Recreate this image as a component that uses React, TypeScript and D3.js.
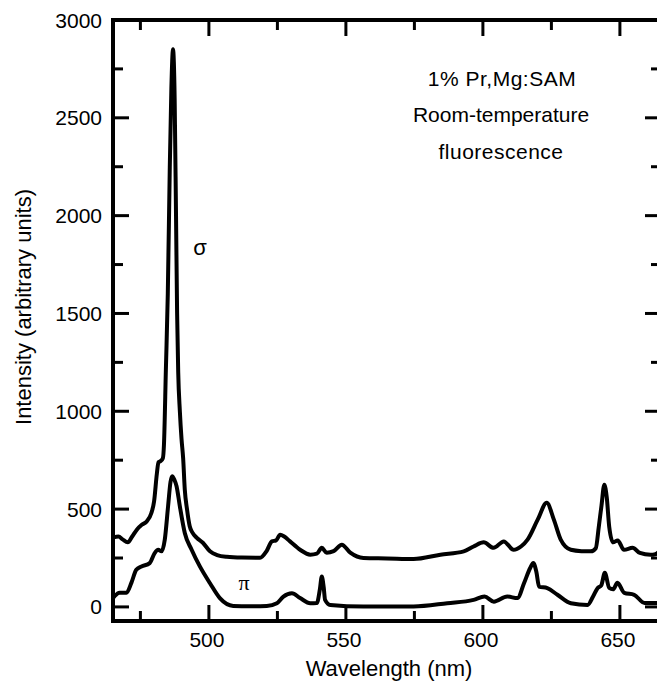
import React from 'react';
import * as d3 from 'd3';

// σ-polarized spectrum (upper curve)
const sigmaWavelength = [465, 467, 468.5, 470.4, 472, 473.7, 475.5, 477.3, 479, 480, 481, 481.6, 482.3, 483.2, 483.6, 484.3, 485.0, 485.7, 486.3, 486.9, 487.5, 488.0, 488.4, 488.8, 489.4, 490.0, 490.6, 491.2, 492, 493, 494, 495.5, 497.8, 500.4, 503, 506.5, 512, 518.7, 521, 523, 524.5, 526, 527.5, 529.6, 533.3, 537, 539.4, 541.2, 543, 545.5, 548.5, 551.6, 556.4, 565, 574.7, 584.5, 593, 596.6, 600.3, 603.9, 607.6, 611.2, 614, 616.3, 620, 623.3, 625.9, 628.4, 632.1, 636, 639.4, 641.2, 642.3, 643.3, 644.3, 645.2, 646.1, 647.5, 649.2, 651.5, 654.6, 657.3, 661.2, 663, 665];
const sigmaIntensity = [355, 360, 345, 330, 360, 395, 420, 437, 480, 540, 680, 740, 745, 760, 830, 1215, 1600, 2226, 2650, 2850, 2600, 2000, 1500, 1200, 1000, 860, 760, 600, 500, 412, 380, 354, 328, 284, 265, 256, 252, 251, 284, 335, 340, 369, 360, 335, 292, 267, 272, 302, 277, 285, 318, 277, 250, 248, 245, 267, 284, 309, 330, 302, 335, 292, 310, 344, 446, 532, 446, 344, 292, 285, 284, 300, 410, 520, 625, 560, 410, 330, 340, 292, 302, 276, 266, 270, 292];

// π-polarized spectrum (lower curve)
const piWavelength = [465, 467.4, 469.9, 471.7, 473.5, 475.4, 478.4, 480.2, 481.5, 482.7, 483.9, 485.1, 486.0, 486.6, 487.4, 488.2, 489.4, 491.2, 493.7, 496.7, 500.4, 504, 508.9, 515, 521.1, 524.8, 527.2, 530.3, 533.3, 537, 539.4, 540.5, 541.2, 541.9, 542.4, 544.3, 556.4, 574.7, 587, 596.6, 600.6, 604, 608.9, 612.6, 615, 617.3, 618.4, 619.5, 620.5, 623.5, 627.2, 632.1, 638.2, 640.2, 641.9, 643.2, 644.5, 646.1, 647.5, 649.1, 651.6, 655.2, 659, 665];
const piIntensity = [45, 72, 72, 123, 190, 207, 224, 275, 292, 284, 344, 514, 640, 668, 650, 617, 514, 378, 292, 207, 121, 45, 5, 3, 5, 19, 53, 70, 45, 19, 20, 90, 155, 100, 36, 10, 2, 2, 19, 36, 53, 27, 53, 45, 121, 200, 224, 180, 104, 96, 62, 19, 10, 53, 97, 110, 174, 97, 90, 123, 72, 62, 20, 20];

const xMajorTicks = [500, 550, 600, 650];
const xMinorTicks = [475, 525, 575, 625];
const yMajorTicks = [0, 500, 1000, 1500, 2000, 2500, 3000];
const yMinorTicks = [250, 750, 1250, 1750, 2250, 2750];

const xDomain = [465, 665];
const yDomain = [-72, 3000];

export default function App() {
  const left = 113, right = 661, top = 20, bottom = 621;
  const x = d3.scaleLinear().domain(xDomain).range([left, right]);
  const y = d3.scaleLinear().domain(yDomain).range([bottom, top]);

  const line = d3.line<[number, number]>()
    .x(d => x(d[0]))
    .y(d => y(d[1]))
    .curve(d3.curveMonotoneX);

  const sigmaPts: [number, number][] = sigmaWavelength.map((w, i) => [w, sigmaIntensity[i]]);
  const piPts: [number, number][] = piWavelength.map((w, i) => [w, piIntensity[i]]);

  const font = 'Liberation Sans, Arial, Helvetica, sans-serif';
  const major = 16, minor = 10;

  return (
    <svg width={657} height={682} style={{ position: 'absolute', left: 0, top: 0, background: '#fff' }}>
      <rect x={0} y={0} width={657} height={682} fill="#fff" />
      <defs>
        <clipPath id="plot">
          <rect x={left} y={top} width={right - left} height={bottom - top} />
        </clipPath>
      </defs>
      <g clipPath="url(#plot)">
        <path d={line(sigmaPts) || ''} fill="none" stroke="#000" strokeWidth={4} strokeLinejoin="round" strokeLinecap="round" />
        <path d={line(piPts) || ''} fill="none" stroke="#000" strokeWidth={4} strokeLinejoin="round" strokeLinecap="round" />
      </g>
      {/* frame */}
      <rect x={left} y={top} width={right - left} height={bottom - top} fill="none" stroke="#000" strokeWidth={4} />
      {/* x ticks top & bottom */}
      {xMajorTicks.map(t => (
        <g key={'xm' + t}>
          <line x1={x(t)} x2={x(t)} y1={bottom} y2={bottom - major} stroke="#000" strokeWidth={3} />
          <line x1={x(t)} x2={x(t)} y1={top} y2={top + major} stroke="#000" strokeWidth={3} />
        </g>
      ))}
      {xMinorTicks.map(t => (
        <g key={'xn' + t}>
          <line x1={x(t)} x2={x(t)} y1={bottom} y2={bottom - minor} stroke="#000" strokeWidth={3} />
          <line x1={x(t)} x2={x(t)} y1={top} y2={top + minor} stroke="#000" strokeWidth={3} />
        </g>
      ))}
      {yMajorTicks.map(t => (
        <g key={'ym' + t}>
          <line x1={left} x2={left + major} y1={y(t)} y2={y(t)} stroke="#000" strokeWidth={3} />
          <line x1={right} x2={right - major} y1={y(t)} y2={y(t)} stroke="#000" strokeWidth={3} />
        </g>
      ))}
      {yMinorTicks.map(t => (
        <g key={'yn' + t}>
          <line x1={left} x2={left + minor} y1={y(t)} y2={y(t)} stroke="#000" strokeWidth={3} />
          <line x1={right} x2={right - minor} y1={y(t)} y2={y(t)} stroke="#000" strokeWidth={3} />
        </g>
      ))}
      {/* tick labels */}
      {xMajorTicks.map(t => (
        <text key={'xl' + t} x={x(t) - 2} y={647} textAnchor="middle" fontFamily={font} fontSize={21} fill="#000">{t}</text>
      ))}
      {yMajorTicks.map(t => (
        <text key={'yl' + t} x={102} y={y(t)} dy="0.36em" textAnchor="end" fontFamily={font} fontSize={21} fill="#000">{t}</text>
      ))}
      {/* axis titles */}
      <text transform="translate(31,307) rotate(-90)" textAnchor="middle" fontFamily={font} fontSize={22} fill="#000">Intensity (arbitrary units)</text>
      <text x={389} y={676} textAnchor="middle" fontFamily={font} fontSize={22} fill="#000">Wavelength (nm)</text>
      {/* annotations */}
      <text x={502} y={86} textAnchor="middle" fontFamily={font} fontSize={21} letterSpacing={0.5} fill="#000">1% Pr,Mg:SAM</text>
      <text x={501} y={122} textAnchor="middle" fontFamily={font} fontSize={21} fill="#000">Room-temperature</text>
      <text x={501} y={159} textAnchor="middle" fontFamily={font} fontSize={21} letterSpacing={0.5} fill="#000">fluorescence</text>
      <text x={200} y={255} textAnchor="middle" fontFamily={font} fontSize={22} fill="#000">σ</text>
      <text x={244} y={590} textAnchor="middle" fontFamily="Liberation Serif, Times New Roman, serif" fontSize={22} fill="#000">π</text>
    </svg>
  );
}
